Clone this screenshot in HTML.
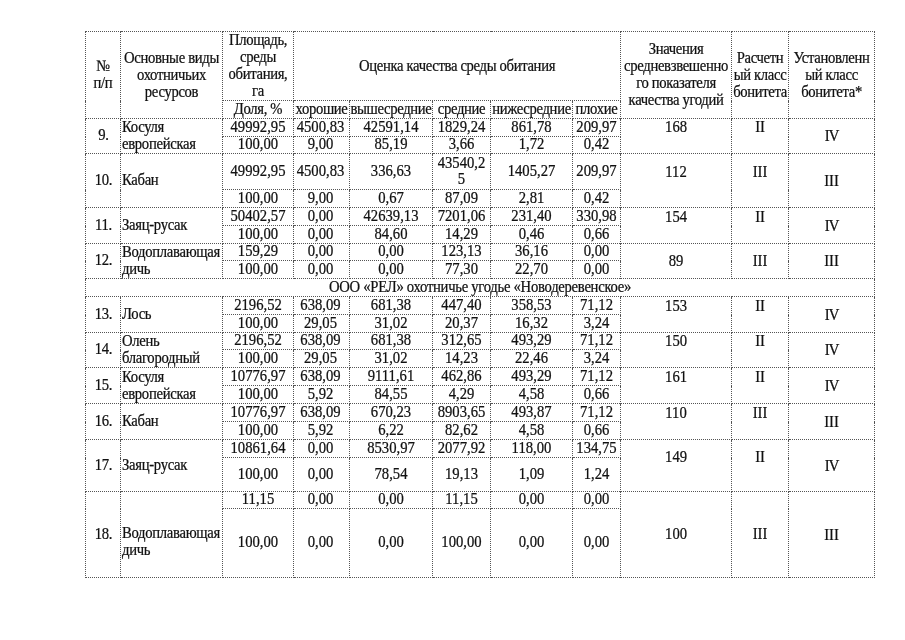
<!DOCTYPE html>
<html lang="ru">
<head>
<meta charset="utf-8">
<title>Таблица оценки качества среды обитания</title>
<style>
html,body{margin:0;padding:0;background:#fff;}
body{width:905px;height:640px;position:relative;overflow:hidden;font-family:"Liberation Serif",serif;font-size:14.67px;line-height:17px;color:#111;-webkit-text-stroke:0.22px #111;}
table{position:absolute;left:85px;top:31px;border-collapse:collapse;table-layout:fixed;width:790px;}
td,th{border:1px dotted #555;padding:0;line-height:16px;text-align:center;vertical-align:middle;font-weight:normal;overflow:visible;white-space:nowrap;}
i{font-style:normal;display:inline-block;transform:translateY(-0.8px) scaleY(1.08);transform-origin:50% 80%;}
th{letter-spacing:-0.33px;line-height:17px;}
th i{transform:translateY(0.3px) scaleY(1.08);}
td.n{padding-left:1px;letter-spacing:-0.3px;}
td.l{text-align:left;padding-left:1px;letter-spacing:-0.3px;line-height:17px;}
td.v{letter-spacing:-1px;}
td.c i{transform:translateY(-0.3px) scaleY(1.08);}
p i{transform:translateY(-0.3px) scaleY(1.08);}
td.l i{transform:translateY(0.5px) scaleY(1.08);}
td.n i{transform:translateY(-1px) scaleY(1.08);}
td.low{padding-top:15px;}
td.a{padding-right:2px;}
td.sec{letter-spacing:-0.275px;}
p{margin:0;line-height:17px;}
</style>
</head>
<body>
<table>
<colgroup>
<col style="width:35px">
<col style="width:102px">
<col style="width:71px">
<col style="width:56px">
<col style="width:83px">
<col style="width:58px">
<col style="width:82px">
<col style="width:48px">
<col style="width:111px">
<col style="width:57px">
<col style="width:86px">
</colgroup>
<thead>
<tr style="height:69px"><th rowspan="2"><i>№</i><br><i>п/п</i></th><th rowspan="2"><i>Основные виды</i><br><i>охотничьих</i><br><i>ресурсов</i></th><th><i>Площадь,</i><br><i>среды</i><br><i>обитания,</i><br><i>га</i></th><th colspan="5"><i>Оценка качества среды обитания</i></th><th rowspan="2"><i>Значения</i><br><i>средневзвешенно</i><br><i>го показателя</i><br><i>качества угодий</i></th><th rowspan="2"><i>Расчетн</i><br><i>ый класс</i><br><i>бонитета</i></th><th rowspan="2"><i>Установленн</i><br><i>ый класс</i><br><i>бонитета*</i></th></tr>
<tr style="height:18px"><th><i>Доля, %</i></th><th><i>хорошие</i></th><th><i>вышесредние</i></th><th><i>средние</i></th><th><i>нижесредние</i></th><th><i>плохие</i></th></tr>
</thead>
<tbody>
<tr style="height:18px"><td rowspan="2" class="n"><i>9.</i></td><td rowspan="2" class="l"><i>Косуля</i><br><i>европейская</i></td><td><i>49992,95</i></td><td class="a"><i>4500,83</i></td><td><i>42591,14</i></td><td><i>1829,24</i></td><td><i>861,78</i></td><td><i>209,97</i></td><td rowspan="2"><p><i>168</i></p><p>&nbsp;</p></td><td rowspan="2"><p><i>II</i></p><p>&nbsp;</p></td><td rowspan="2" class="c v"><i>IV</i></td></tr>
<tr style="height:17px"><td><i>100,00</i></td><td class="a"><i>9,00</i></td><td><i>85,19</i></td><td><i>3,66</i></td><td><i>1,72</i></td><td><i>0,42</i></td></tr>
<tr style="height:36px"><td rowspan="2" class="n"><i>10.</i></td><td rowspan="2" class="l"><i>Кабан</i></td><td><i>49992,95</i></td><td class="a"><i>4500,83</i></td><td><i>336,63</i></td><td><i>43540,2</i><br><i>5</i></td><td><i>1405,27</i></td><td><i>209,97</i></td><td rowspan="2"><p><i>112</i></p><p>&nbsp;</p></td><td rowspan="2"><p><i>III</i></p><p>&nbsp;</p></td><td rowspan="2" class="c"><i>III</i></td></tr>
<tr style="height:18px"><td><i>100,00</i></td><td class="a"><i>9,00</i></td><td><i>0,67</i></td><td><i>87,09</i></td><td><i>2,81</i></td><td><i>0,42</i></td></tr>
<tr style="height:18px"><td rowspan="2" class="n"><i>11.</i></td><td rowspan="2" class="l"><i>Заяц-русак</i></td><td><i>50402,57</i></td><td class="a"><i>0,00</i></td><td><i>42639,13</i></td><td><i>7201,06</i></td><td><i>231,40</i></td><td><i>330,98</i></td><td rowspan="2"><p><i>154</i></p><p>&nbsp;</p></td><td rowspan="2"><p><i>II</i></p><p>&nbsp;</p></td><td rowspan="2" class="c v"><i>IV</i></td></tr>
<tr style="height:18px"><td><i>100,00</i></td><td class="a"><i>0,00</i></td><td><i>84,60</i></td><td><i>14,29</i></td><td><i>0,46</i></td><td><i>0,66</i></td></tr>
<tr style="height:17px"><td rowspan="2" class="n"><i>12.</i></td><td rowspan="2" class="l"><i>Водоплавающая</i><br><i>дичь</i></td><td><i>159,29</i></td><td class="a"><i>0,00</i></td><td><i>0,00</i></td><td><i>123,13</i></td><td><i>36,16</i></td><td><i>0,00</i></td><td rowspan="2"><p><i>89</i></p></td><td rowspan="2"><p><i>III</i></p></td><td rowspan="2" class="c"><i>III</i></td></tr>
<tr style="height:18px"><td><i>100,00</i></td><td class="a"><i>0,00</i></td><td><i>0,00</i></td><td><i>77,30</i></td><td><i>22,70</i></td><td><i>0,00</i></td></tr>
<tr style="height:18px"><td class="sec" colspan="11"><i>ООО «РЕЛ» охотничье угодье «Новодеревенское»</i></td></tr>
<tr style="height:18px"><td rowspan="2" class="n"><i>13.</i></td><td rowspan="2" class="l"><i>Лось</i></td><td><i>2196,52</i></td><td class="a"><i>638,09</i></td><td><i>681,38</i></td><td><i>447,40</i></td><td><i>358,53</i></td><td><i>71,12</i></td><td rowspan="2"><p><i>153</i></p><p>&nbsp;</p></td><td rowspan="2"><p><i>II</i></p><p>&nbsp;</p></td><td rowspan="2" class="c v"><i>IV</i></td></tr>
<tr style="height:18px"><td><i>100,00</i></td><td class="a"><i>29,05</i></td><td><i>31,02</i></td><td><i>20,37</i></td><td><i>16,32</i></td><td><i>3,24</i></td></tr>
<tr style="height:17px"><td rowspan="2" class="n"><i>14.</i></td><td rowspan="2" class="l"><i>Олень</i><br><i>благородный</i></td><td><i>2196,52</i></td><td class="a"><i>638,09</i></td><td><i>681,38</i></td><td><i>312,65</i></td><td><i>493,29</i></td><td><i>71,12</i></td><td rowspan="2"><p><i>150</i></p><p>&nbsp;</p></td><td rowspan="2"><p><i>II</i></p><p>&nbsp;</p></td><td rowspan="2" class="c v"><i>IV</i></td></tr>
<tr style="height:18px"><td><i>100,00</i></td><td class="a"><i>29,05</i></td><td><i>31,02</i></td><td><i>14,23</i></td><td><i>22,46</i></td><td><i>3,24</i></td></tr>
<tr style="height:18px"><td rowspan="2" class="n"><i>15.</i></td><td rowspan="2" class="l"><i>Косуля</i><br><i>европейская</i></td><td><i>10776,97</i></td><td class="a"><i>638,09</i></td><td><i>9111,61</i></td><td><i>462,86</i></td><td><i>493,29</i></td><td><i>71,12</i></td><td rowspan="2"><p><i>161</i></p><p>&nbsp;</p></td><td rowspan="2"><p><i>II</i></p><p>&nbsp;</p></td><td rowspan="2" class="c v"><i>IV</i></td></tr>
<tr style="height:18px"><td><i>100,00</i></td><td class="a"><i>5,92</i></td><td><i>84,55</i></td><td><i>4,29</i></td><td><i>4,58</i></td><td><i>0,66</i></td></tr>
<tr style="height:18px"><td rowspan="2" class="n"><i>16.</i></td><td rowspan="2" class="l"><i>Кабан</i></td><td><i>10776,97</i></td><td class="a"><i>638,09</i></td><td><i>670,23</i></td><td><i>8903,65</i></td><td><i>493,87</i></td><td><i>71,12</i></td><td rowspan="2"><p><i>110</i></p><p>&nbsp;</p></td><td rowspan="2"><p><i>III</i></p><p>&nbsp;</p></td><td rowspan="2" class="c"><i>III</i></td></tr>
<tr style="height:18px"><td><i>100,00</i></td><td class="a"><i>5,92</i></td><td><i>6,22</i></td><td><i>82,62</i></td><td><i>4,58</i></td><td><i>0,66</i></td></tr>
<tr style="height:18px"><td rowspan="2" class="n"><i>17.</i></td><td rowspan="2" class="l"><i>Заяц-русак</i></td><td><i>10861,64</i></td><td class="a"><i>0,00</i></td><td><i>8530,97</i></td><td><i>2077,92</i></td><td><i>118,00</i></td><td><i>134,75</i></td><td rowspan="2"><p><i>149</i></p><p>&nbsp;</p></td><td rowspan="2"><p><i>II</i></p><p>&nbsp;</p></td><td rowspan="2" class="c v"><i>IV</i></td></tr>
<tr style="height:34px"><td><i>100,00</i></td><td class="a"><i>0,00</i></td><td><i>78,54</i></td><td><i>19,13</i></td><td><i>1,09</i></td><td><i>1,24</i></td></tr>
<tr style="height:17px"><td rowspan="2" class="n"><i>18.</i></td><td rowspan="2" class="l low"><i>Водоплавающая</i><br><i>дичь</i></td><td><i>11,15</i></td><td class="a"><i>0,00</i></td><td><i>0,00</i></td><td><i>11,15</i></td><td><i>0,00</i></td><td><i>0,00</i></td><td rowspan="2"><p><i>100</i></p></td><td rowspan="2"><p><i>III</i></p></td><td rowspan="2" class="c"><i>III</i></td></tr>
<tr style="height:69px"><td><i>100,00</i></td><td class="a"><i>0,00</i></td><td><i>0,00</i></td><td><i>100,00</i></td><td><i>0,00</i></td><td><i>0,00</i></td></tr>
</tbody>
</table>
</body>
</html>
